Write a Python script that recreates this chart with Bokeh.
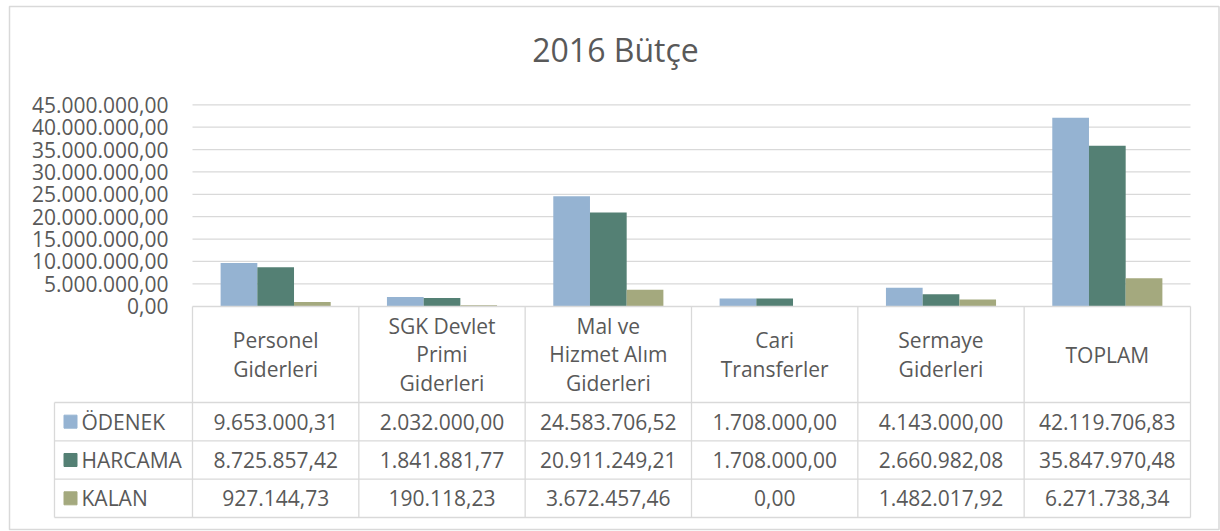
from bokeh.plotting import figure
from bokeh.models import Range1d, LinearAxis, FixedTicker
from bokeh.core.properties import value
from bokeh.embed import file_html
from bokeh.resources import INLINE

# ---------------- data ----------------
title_text = "2016 Bütçe"
categories = ["Personel\nGiderleri", "SGK Devlet\nPrimi\nGiderleri",
              "Mal ve\nHizmet Alım\nGiderleri", "Cari\nTransferler",
              "Sermaye\nGiderleri", "TOPLAM"]
series_names = ["ÖDENEK", "HARCAMA", "KALAN"]
odenek = [9653000.31, 2032000.00, 24583706.52, 1708000.00, 4143000.00, 42119706.83]
harcama = [8725857.42, 1841881.77, 20911249.21, 1708000.00, 2660982.08, 35847970.48]
kalan = [927144.73, 190118.23, 3672457.46, 0.00, 1482017.92, 6271738.34]
y_ticks = [0, 5000000, 10000000, 15000000, 20000000, 25000000,
           30000000, 35000000, 40000000, 45000000]
y_tick_labels = ["0,00", "5.000.000,00", "10.000.000,00", "15.000.000,00",
                 "20.000.000,00", "25.000.000,00", "30.000.000,00",
                 "35.000.000,00", "40.000.000,00", "45.000.000,00"]

# ---------------- style ----------------
colors = ["#95B3D2", "#548074", "#A4A97E"]
TXT = "#595959"
LINE = "#D9D9D9"
FONT = "Open Sans"
FS = "21px"

W, H = 1220, 531
PAGE0 = 0
# layout in page pixels
PLOT_L, PLOT_R = 192, 1190
ZERO_Y, TOP_Y = 305.7, 104.3
TBL_L = 54
HDR_TOP, HDR_BOT = 306, 402
ROW_H = 38.33
CAT_W = (PLOT_R - PLOT_L) / len(categories)
PX_PER_V = (ZERO_Y - TOP_Y) / y_ticks[-1]

x_start = 0.5 - (PLOT_L - PAGE0) / CAT_W
x_end = 0.5 + (PAGE0 + W - PLOT_L) / CAT_W
y_top = (ZERO_Y - PAGE0) / PX_PER_V
y_bot = -(PAGE0 + H - ZERO_Y) / PX_PER_V

p = figure(width=W, height=H, x_range=Range1d(x_start, x_end),
           y_range=Range1d(y_bot, y_top), x_axis_type=None, y_axis_type=None,
           toolbar_location=None, output_backend="svg", min_border=0,
           background_fill_color="white", border_fill_color="white")
p.outline_line_color = None
p.extra_x_ranges = {"px": Range1d(PAGE0, PAGE0 + W)}
p.extra_y_ranges = {"px": Range1d(PAGE0 + H, PAGE0)}

# chart border
p.quad(left=[9], right=[1218.5], top=[6], bottom=[529], x_range_name="px",
       y_range_name="px", fill_color=None, line_color=LINE, line_width=1.5)

# gridlines (from tick values)
gl = [t for t in y_ticks if t > 0]
p.segment(x0=[0.5] * len(gl), x1=[len(categories) + 0.5] * len(gl), y0=gl, y1=gl,
          line_color=LINE, line_width=1.3)

# y axis inside frame at plot-area left edge
yaxis = LinearAxis(fixed_location=0.5, ticker=FixedTicker(ticks=y_ticks))
yaxis.major_label_overrides = {t: l for t, l in zip(y_ticks, y_tick_labels)}
yaxis.axis_line_color = None
yaxis.major_tick_line_color = None
yaxis.minor_tick_line_color = None
yaxis.major_tick_in = 0
yaxis.major_tick_out = 0
yaxis.major_label_standoff = 24
yaxis.major_label_text_font = FONT
yaxis.major_label_text_font_size = FS
yaxis.major_label_text_color = TXT
p.add_layout(yaxis, "left")

# bars
xs = list(range(1, len(categories) + 1))
bar_w = 36.7 / CAT_W
offsets = [-bar_w, 0, bar_w]
for vals, c, off in zip([odenek, harcama, kalan], colors, offsets):
    p.vbar(x=[x + off for x in xs], top=vals, bottom=0, width=bar_w,
           fill_color=c, line_color=None)

# ---------------- data table ----------------
n = len(categories)
row_lines = [HDR_BOT + k * ROW_H for k in range(4)]
p.segment(x0=[0.5], x1=[n + 0.5], y0=[HDR_TOP], y1=[HDR_TOP],
          y_range_name="px", line_color=LINE, line_width=1.3)
p.segment(x0=[TBL_L] * 4, x1=[PLOT_R] * 4, y0=row_lines, y1=row_lines,
          x_range_name="px", y_range_name="px", line_color=LINE, line_width=1.3)
vx = [k + 0.5 for k in range(n + 1)]
p.segment(x0=vx, x1=vx, y0=[HDR_TOP] * len(vx), y1=[row_lines[-1]] * len(vx),
          y_range_name="px", line_color=LINE, line_width=1.3)
p.segment(x0=[TBL_L], x1=[TBL_L], y0=[row_lines[0]], y1=[row_lines[-1]],
          x_range_name="px", y_range_name="px", line_color=LINE, line_width=1.3)

# header category labels
p.text(x=xs, y=[(HDR_TOP + HDR_BOT) / 2] * n, text=categories, y_range_name="px",
       text_align="center", text_baseline="middle", text_font=value(FONT),
       text_font_size=FS, text_color=TXT, text_line_height=1.02)


def fmt(v):
    s = f"{v:,.2f}"
    return s.replace(",", "X").replace(".", ",").replace("X", ".")


for r, (name, vals, c) in enumerate(zip(series_names, [odenek, harcama, kalan], colors)):
    yc = row_lines[r] + ROW_H / 2
    p.text(x=xs, y=[yc] * n, text=[fmt(v) for v in vals], y_range_name="px",
           text_align="center", text_baseline="middle", text_font=value(FONT),
           text_font_size=FS, text_color=TXT)
    p.scatter(x=[TBL_L + 16], y=[yc], marker="square", size=13, fill_color=c,
              line_color=c, x_range_name="px", y_range_name="px")
    p.text(x=[TBL_L + 27], y=[yc], text=[name], x_range_name="px", y_range_name="px",
           text_align="left", text_baseline="middle", text_font=value(FONT),
           text_font_size=FS, text_color=TXT)

# title
p.text(x=[615], y=[49], text=[title_text], x_range_name="px",
       y_range_name="px", text_align="center", text_baseline="middle",
       text_font=value(FONT), text_font_size="32px", text_color=TXT)

open("out.html", "w").write(file_html(p, INLINE))
